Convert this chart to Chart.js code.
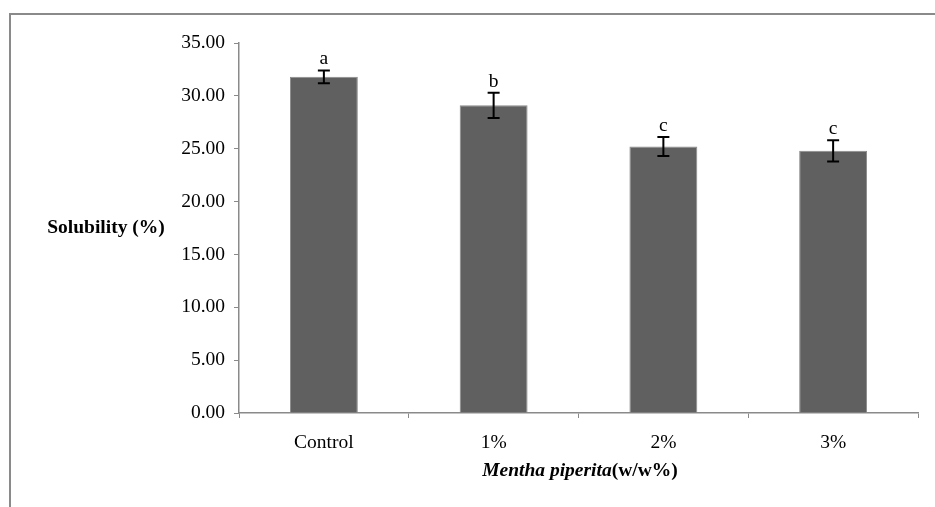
<!DOCTYPE html>
<html>
<head>
<meta charset="utf-8">
<script src="https://cdn.jsdelivr.net/npm/chart.js@4"></script>
<style>
  html, body { margin: 0; padding: 0; background: #fff; }
  #chart { display: block; }
</style>
</head>
<body>
<canvas id="chart" width="935" height="507"></canvas>
<script>
// Data
const categories = ["Control", "1%", "2%", "3%"];
const solubility = [31.8, 29.1, 25.2, 24.8];
const errors = [0.6, 1.2, 0.9, 1.0];
const letters = ["a", "b", "c", "c"];
const yTicks = [0, 5, 10, 15, 20, 25, 30, 35];

const FONT = "'Liberation Serif', 'Times New Roman', serif";
const AXIS_GRAY = "#8a8a8a";

// Draws error bars and the significance letters over each bar
const errorBarPlugin = {
  id: "errorBars",
  afterDatasetsDraw(chart) {
    const ctx = chart.ctx;
    const y = chart.scales.y;
    const meta = chart.getDatasetMeta(0);
    ctx.save();
    ctx.strokeStyle = "#000";
    ctx.lineWidth = 2;
    meta.data.forEach((bar, i) => {
      const top = y.getPixelForValue(solubility[i] + errors[i]);
      const bottom = y.getPixelForValue(solubility[i] - errors[i]);
      const x = bar.x;
      ctx.beginPath();
      ctx.moveTo(x, top); ctx.lineTo(x, bottom);
      ctx.moveTo(x - 6, top); ctx.lineTo(x + 6, top);
      ctx.moveTo(x - 6, bottom); ctx.lineTo(x + 6, bottom);
      ctx.stroke();

      ctx.fillStyle = "#000";
      ctx.font = "19.5px " + FONT;
      ctx.textAlign = "center";
      ctx.textBaseline = "alphabetic";
      ctx.fillText(letters[i], x, top - 6);
    });
    ctx.restore();
  }
};

// Axis titles and the outer frame
const titlesPlugin = {
  id: "titles",
  afterDraw(chart) {
    const ctx = chart.ctx;
    ctx.save();
    // frame (only left and top edges are visible in the crop)
    ctx.strokeStyle = AXIS_GRAY;
    ctx.lineWidth = 2;
    ctx.beginPath();
    ctx.moveTo(10, 520);
    ctx.lineTo(10, 14);
    ctx.lineTo(950, 14);
    ctx.stroke();

    ctx.fillStyle = "#000";
    ctx.textBaseline = "middle";

    // y title, horizontal
    ctx.font = "bold 19.5px " + FONT;
    ctx.textAlign = "center";
    ctx.fillText("Solubility (%)", 106, 228);

    // x title, italic species name + bold unit
    const part1 = "Mentha piperita";
    const part2 = "(w/w%)";
    ctx.font = "italic bold 19.5px " + FONT;
    const w1 = ctx.measureText(part1).width;
    ctx.font = "bold 19.5px " + FONT;
    const w2 = ctx.measureText(part2).width;
    const startX = 580 - (w1 + w2) / 2;
    ctx.textAlign = "left";
    ctx.font = "italic bold 19.5px " + FONT;
    ctx.fillText(part1, startX, 471);
    ctx.font = "bold 19.5px " + FONT;
    ctx.fillText(part2, startX + w1, 471);
    ctx.restore();
  }
};

const ctx = document.getElementById("chart").getContext("2d");

new Chart(ctx, {
  type: "bar",
  data: {
    labels: categories,
    datasets: [{
      data: solubility,
      backgroundColor: "#606060",
      borderColor: "#8a8a8a",
      borderWidth: 1,
      barPercentage: 0.4,
      categoryPercentage: 1.0
    }]
  },
  options: {
    responsive: false,
    animation: false,
    layout: { padding: { top: 43, left: 0, right: 17, bottom: 0 } },
    plugins: {
      legend: { display: false },
      tooltip: { enabled: false }
    },
    scales: {
      x: {
        offset: true,
        border: { display: true, color: AXIS_GRAY, width: 1.5 },
        grid: { display: true, drawOnChartArea: false, drawTicks: true, tickLength: 5, color: AXIS_GRAY, offset: true },
        ticks: { color: "#000", font: { family: FONT, size: 19.5 }, padding: 13, maxRotation: 0 },
        afterFit(scale) { scale.height = 94; }
      },
      y: {
        min: yTicks[0],
        max: yTicks[yTicks.length - 1],
        border: { display: true, color: AXIS_GRAY, width: 1.5 },
        grid: { display: true, drawOnChartArea: false, drawTicks: true, tickLength: 5, color: AXIS_GRAY },
        afterBuildTicks(scale) {
          scale.ticks = yTicks.map(v => ({ value: v }));
        },
        ticks: {
          color: "#000",
          font: { family: FONT, size: 19.5 },
          padding: 9,
          callback: v => Number(v).toFixed(2)
        },
        afterFit(scale) { scale.width = 239; }
      }
    }
  },
  plugins: [errorBarPlugin, titlesPlugin]
});
</script>
</body>
</html>
